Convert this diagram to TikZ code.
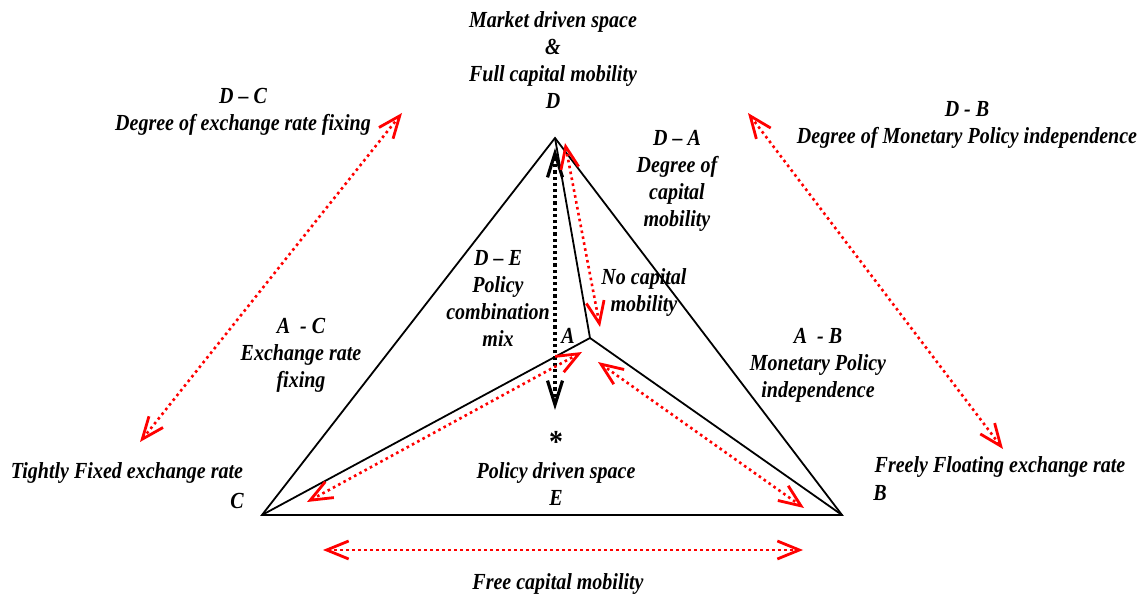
\documentclass[tikz,border=0pt]{standalone}
\usepackage{fontspec}
\setmainfont{Liberation Serif}
\newfontfamily\lblfont[FakeStretch=0.87,Ligatures=TeX]{Liberation Serif}
\usetikzlibrary{arrows.meta}
\begin{document}
\begin{tikzpicture}[x=1pt,y=-1pt,
  lbl/.style={font=\lblfont\fontsize{23}{27}\selectfont\bfseries\itshape, align=center, inner sep=0pt},
  edge/.style={line width=1.8pt, line join=miter},
  redarr/.style={red, line width=2.6pt, dash pattern=on 2.6pt off 3.4pt,
    {Straight Barb[length=22pt,width=18pt,line width=2.8pt]}-{Straight Barb[length=22pt,width=18pt,line width=2.8pt]}},
  blkarr/.style={black, line width=3.2pt, dash pattern=on 3.2pt off 3pt,
    {Straight Barb[length=24pt,width=15pt,line width=3.2pt]}-{Straight Barb[length=24pt,width=15pt,line width=3.2pt]}}]
\useasboundingbox (0,0) rectangle (1146,601);
% vertices
\coordinate (D) at (555,138);
\coordinate (C) at (262,515);
\coordinate (B) at (842,515);
\coordinate (A) at (590,338);
% arrow end points
\coordinate (de1) at (555,148);
\coordinate (de2) at (555,410);
\coordinate (da1) at (565,143);
\coordinate (da2) at (600,327);
\coordinate (ac1) at (582,352);
\coordinate (ac2) at (307,502);
\coordinate (ab1) at (598,362);
\coordinate (ab2) at (804,508);
\coordinate (cb1) at (323,550);
\coordinate (cb2) at (803,550);
\coordinate (dc1) at (402,113);
\coordinate (dc2) at (140,442);
\coordinate (db1) at (748,113);
\coordinate (db2) at (1003,449);
% triangle
\draw[edge] (C) -- (D) -- (B) -- cycle;
\draw[edge] (D) -- (A);
\draw[edge] (A) -- (C);
\draw[edge] (A) -- (B);
% arrows
\draw[blkarr] (de2) -- (de1);
\draw[redarr] (da1) -- (da2);
\draw[redarr] (ac1) -- (ac2);
\draw[redarr] (ab1) -- (ab2);
\draw[redarr] (cb1) -- (cb2);
\draw[redarr] (dc1) -- (dc2);
\draw[redarr] (db1) -- (db2);
% labels
\node[lbl] (top) at (553,60) {Market driven space\\\&\\Full capital mobility\\D};
\node[lbl] (tdc) at (243,112) {D – C\\Degree of exchange rate fixing};
\node[lbl] (tdb) at (967,125) {D - B\\Degree of Monetary Policy independence};
\node[lbl] (tda) at (677,181) {D – A\\Degree of\\capital\\mobility};
\node[lbl] (tde) at (498,298) {D – E\\Policy\\combination\\mix};
\node[lbl] (tnc) at (644,293) {No capital\\mobility};
\node[lbl] (tA) at (568,336) {A};
\node[lbl] (tac) at (301,355) {A\ \ - C\\Exchange rate\\fixing};
\node[lbl] (tab) at (818,365) {A\ \ - B\\Monetary Policy\\independence};
\node[lbl, font=\lblfont\fontsize{32}{32}\selectfont\bfseries] (star) at (556,442) {*};
\node[lbl] (tE) at (556,484) {Policy driven space\\E};
\node[lbl] (ttf) at (127,473) {Tightly Fixed exchange rate};
\node[lbl] (tC) at (237,501) {C};
\node[lbl] (tff) at (1000,467) {Freely Floating exchange rate};
\node[lbl] (tB) at (880,493) {B};
\node[lbl] (tfc) at (558,584) {Free capital mobility};
\end{tikzpicture}
\end{document}
